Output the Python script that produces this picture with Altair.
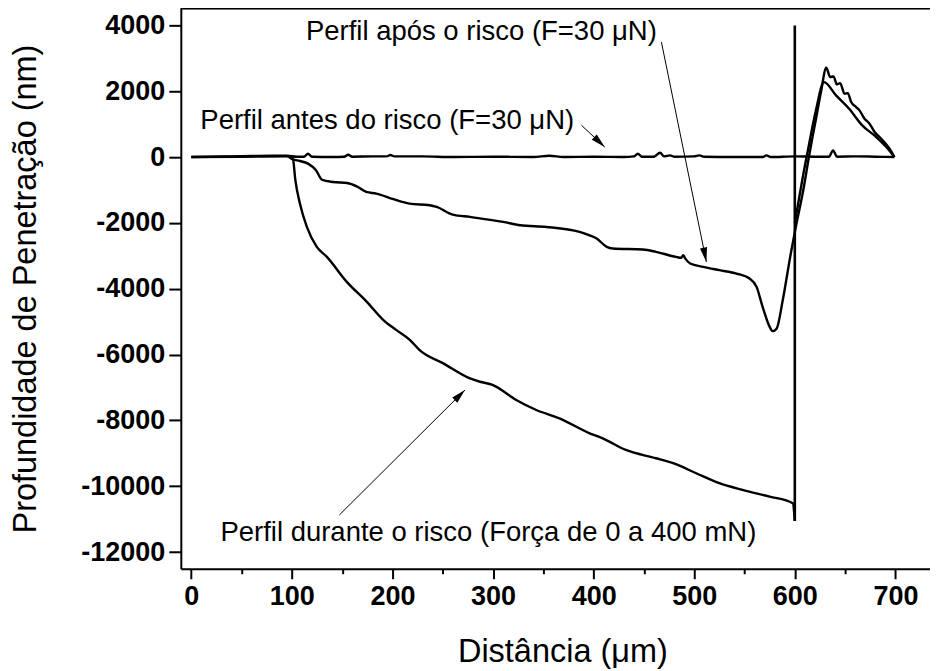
import altair as alt
import pandas as pd
import numpy as np

# ---- data ----
antes_x = [0, 20, 40, 60, 80, 95, 105, 112, 116, 120, 140, 152, 156, 160, 180, 194, 198, 202, 230, 260,
           300, 340, 356, 370, 400, 430, 440, 444, 448, 460, 466, 470, 476, 480, 500, 505, 510, 540, 568,
           572, 576, 600, 620, 634, 638, 642, 660, 680, 699]
antes_y = [0, 10, 20, 30, 40, 40, 10, 10, 100, 10, 0, 10, 70, 10, 20, 20, 60, 20, 20, 0,
           10, 0, 40, 0, 10, 0, 20, 100, 10, 10, 130, 20, 50, 10, 20, 50, 10, 0, 0,
           50, 0, 20, 10, 10, 200, 10, 20, 10, 0]

apos_x = [0, 50, 95, 101, 108, 116, 124, 130, 141, 155, 165, 174, 184, 201, 217, 237, 244, 260, 277, 310,
          327, 353, 386, 396, 403, 413, 419, 449, 462, 482, 487, 489, 491, 496, 509, 525, 542, 555, 562, 568,
          575, 578, 582, 588, 596, 601, 609, 614, 617, 622, 626, 631.3, 635.2, 638.5, 641.8, 645.1, 649.4,
          652.7, 656, 661, 664.3, 669.3, 674.3, 679.3, 685.9, 694.2, 699]
apos_y = [0, 10, 20, -70, -120, -200, -400, -690, -760, -790, -900, -1060, -1110, -1280, -1415, -1465, -1517,
          -1750, -1820, -1970, -2072, -2124, -2275, -2380, -2476, -2730, -2780, -2810, -2880, -3034, -3060,
          -2980, -3080, -3235, -3337, -3437, -3540, -3690, -3944, -4551, -5158, -5290, -5208, -4348, -2931,
          -2124, -910, 0, 505, 1316, 1972, 2712, 2428, 2448, 2205, 2245, 1922, 1942, 1669, 1517, 1417, 1165,
          1013, 759, 557, 253, 0]

# profile during the scratch (ends at the 600 µm marker)
durante_x = [98, 101, 103.5, 108, 114.9, 124.8, 134.8, 154.6, 174.5, 191, 204, 217.5, 227, 250.6, 277, 287,
             300, 323, 343, 366, 396, 409, 432, 462, 479, 502, 525, 548, 575, 598, 600]
durante_y = [0, -50, -707, -1415, -2124, -2730, -3034, -3792, -4399, -4955, -5258, -5561, -5865, -6269, -6724,
             -6827, -6927, -7382, -7685, -7938, -8392, -8544, -8899, -9151, -9302, -9606, -9909, -10112,
             -10316, -10516, -11053]
# vertical end-of-scratch marker
marcador_x = [600, 600]
marcador_y = [-11053, 3996]
# elastic recovery after the marker
retorno_x = [600, 604, 608, 613, 621, 629, 641, 654, 667, 681, 691, 699]
retorno_y = [-2000, -1300, -600, 200, 1417, 2276, 1872, 1468, 962, 607, 303, 0]

# annotations (data coordinates)
note_text = ["Perfil após o risco (F=30 μN)",
             "Perfil antes do risco (F=30 μN)",
             "Perfil durante o risco (Força de 0 a 400 mN)"]
note_x = [114, 9, 29]
note_y = [3783, 1083, -11417]
arrow_x1 = [467.4, 388.0, 147.3]
arrow_y1 = [3489, 962, -10871]
arrow_x2 = [512.1, 411.1, 272.1]
arrow_y2 = [-3186, 303, -7078]

x_ticks = list(range(0, 701, 50))
y_ticks = list(range(-12000, 4001, 1000))

# ---- layout ----
W, H = 750, 561
XMIN, XMAX = -10.4, 734.4
YMIN, YMAX = -12507, 4516
FONT = "Liberation Sans"

def table(series):
    rows = []
    for name, xs, ys in series:
        for i, (a, b) in enumerate(zip(xs, ys)):
            rows.append({"serie": name, "i": i, "x": a, "y": b})
    return pd.DataFrame(rows)

smooth_df = table([("antes", antes_x, antes_y), ("apos", apos_x, apos_y),
                   ("durante", durante_x, durante_y), ("retorno", retorno_x, retorno_y)])
marker_df = table([("marcador", marcador_x, marcador_y)])

sx = W / (XMAX - XMIN)
sy = H / (YMAX - YMIN)
angles = []
for a1, b1, a2, b2 in zip(arrow_x1, arrow_y1, arrow_x2, arrow_y2):
    dx = (a2 - a1) * sx
    dy = -(b2 - b1) * sy
    angles.append(float(np.degrees(np.arctan2(dx, -dy)) % 360))

notes = pd.DataFrame({"x": note_x, "y": note_y, "t": note_text})
arrows = pd.DataFrame({"x1": arrow_x1, "y1": arrow_y1, "x2": arrow_x2, "y2": arrow_y2, "ang": angles})

xscale = alt.Scale(domain=[XMIN, XMAX], nice=False, zero=False)
yscale = alt.Scale(domain=[YMIN, YMAX], nice=False, zero=False)

xaxis = alt.Axis(values=x_ticks, title="Distância (μm)",
                 labelExpr="datum.value % 100 === 0 ? '' + datum.value : ''",
                 tickSize={"condition": {"test": "datum.value % 100 === 0", "value": 10}, "value": 5},
                 labelPadding=5, titlePadding=26, titleX=382)
yaxis = alt.Axis(values=y_ticks, title="Profundidade de Penetração (nm)",
                 labelExpr="datum.value % 2000 === 0 ? '' + datum.value : ''",
                 tickSize={"condition": {"test": "datum.value % 2000 === 0", "value": 12}, "value": 6},
                 labelPadding=4, titlePadding=38)

lines = alt.Chart(smooth_df).mark_line(color="black", strokeWidth=2.4, interpolate="monotone").encode(
    x=alt.X("x:Q", scale=xscale, axis=xaxis),
    y=alt.Y("y:Q", scale=yscale, axis=yaxis),
    detail="serie:N",
    order="i:Q",
)
marker = alt.Chart(marker_df).mark_line(color="black", strokeWidth=2.6).encode(
    x=alt.X("x:Q", scale=xscale), y=alt.Y("y:Q", scale=yscale), order="i:Q")

texts = alt.Chart(notes).mark_text(align="left", baseline="middle", font=FONT, fontSize=27.5,
                                   color="black").encode(
    x=alt.X("x:Q", scale=xscale), y=alt.Y("y:Q", scale=yscale), text="t:N")

shafts = alt.Chart(arrows).mark_rule(color="black", strokeWidth=1).encode(
    x=alt.X("x1:Q", scale=xscale), y=alt.Y("y1:Q", scale=yscale), x2="x2:Q", y2="y2:Q")

heads = alt.Chart(arrows).mark_point(shape="M0,0L0.45,1.8L-0.45,1.8Z", filled=True, color="black",
                                     opacity=1, size=256, strokeWidth=0).encode(
    x=alt.X("x2:Q", scale=xscale), y=alt.Y("y2:Q", scale=yscale), angle=alt.Angle("ang:Q", scale=None))

top = alt.Chart(notes).mark_rule(color="black", strokeWidth=2).encode(
    x=alt.value(0), x2=alt.value(W), y=alt.value(0))

chart = alt.layer(lines, marker, shafts, heads, texts, top).properties(
    width=W, height=H,
    autosize=alt.AutoSizeParams(type="none"),
    padding={"left": 173, "top": 0, "right": 0, "bottom": 100},
).configure_view(stroke=None).configure_axis(
    grid=False, domainColor="black", domainWidth=2, tickColor="black", tickWidth=2,
    labelFont=FONT, labelFontWeight="bold", labelFontSize=27, labelColor="black",
    titleFont=FONT, titleFontWeight="normal", titleFontSize=32.5, titleColor="black",
)

chart.save("out.html", embed_options={"renderer": "svg", "actions": False})
